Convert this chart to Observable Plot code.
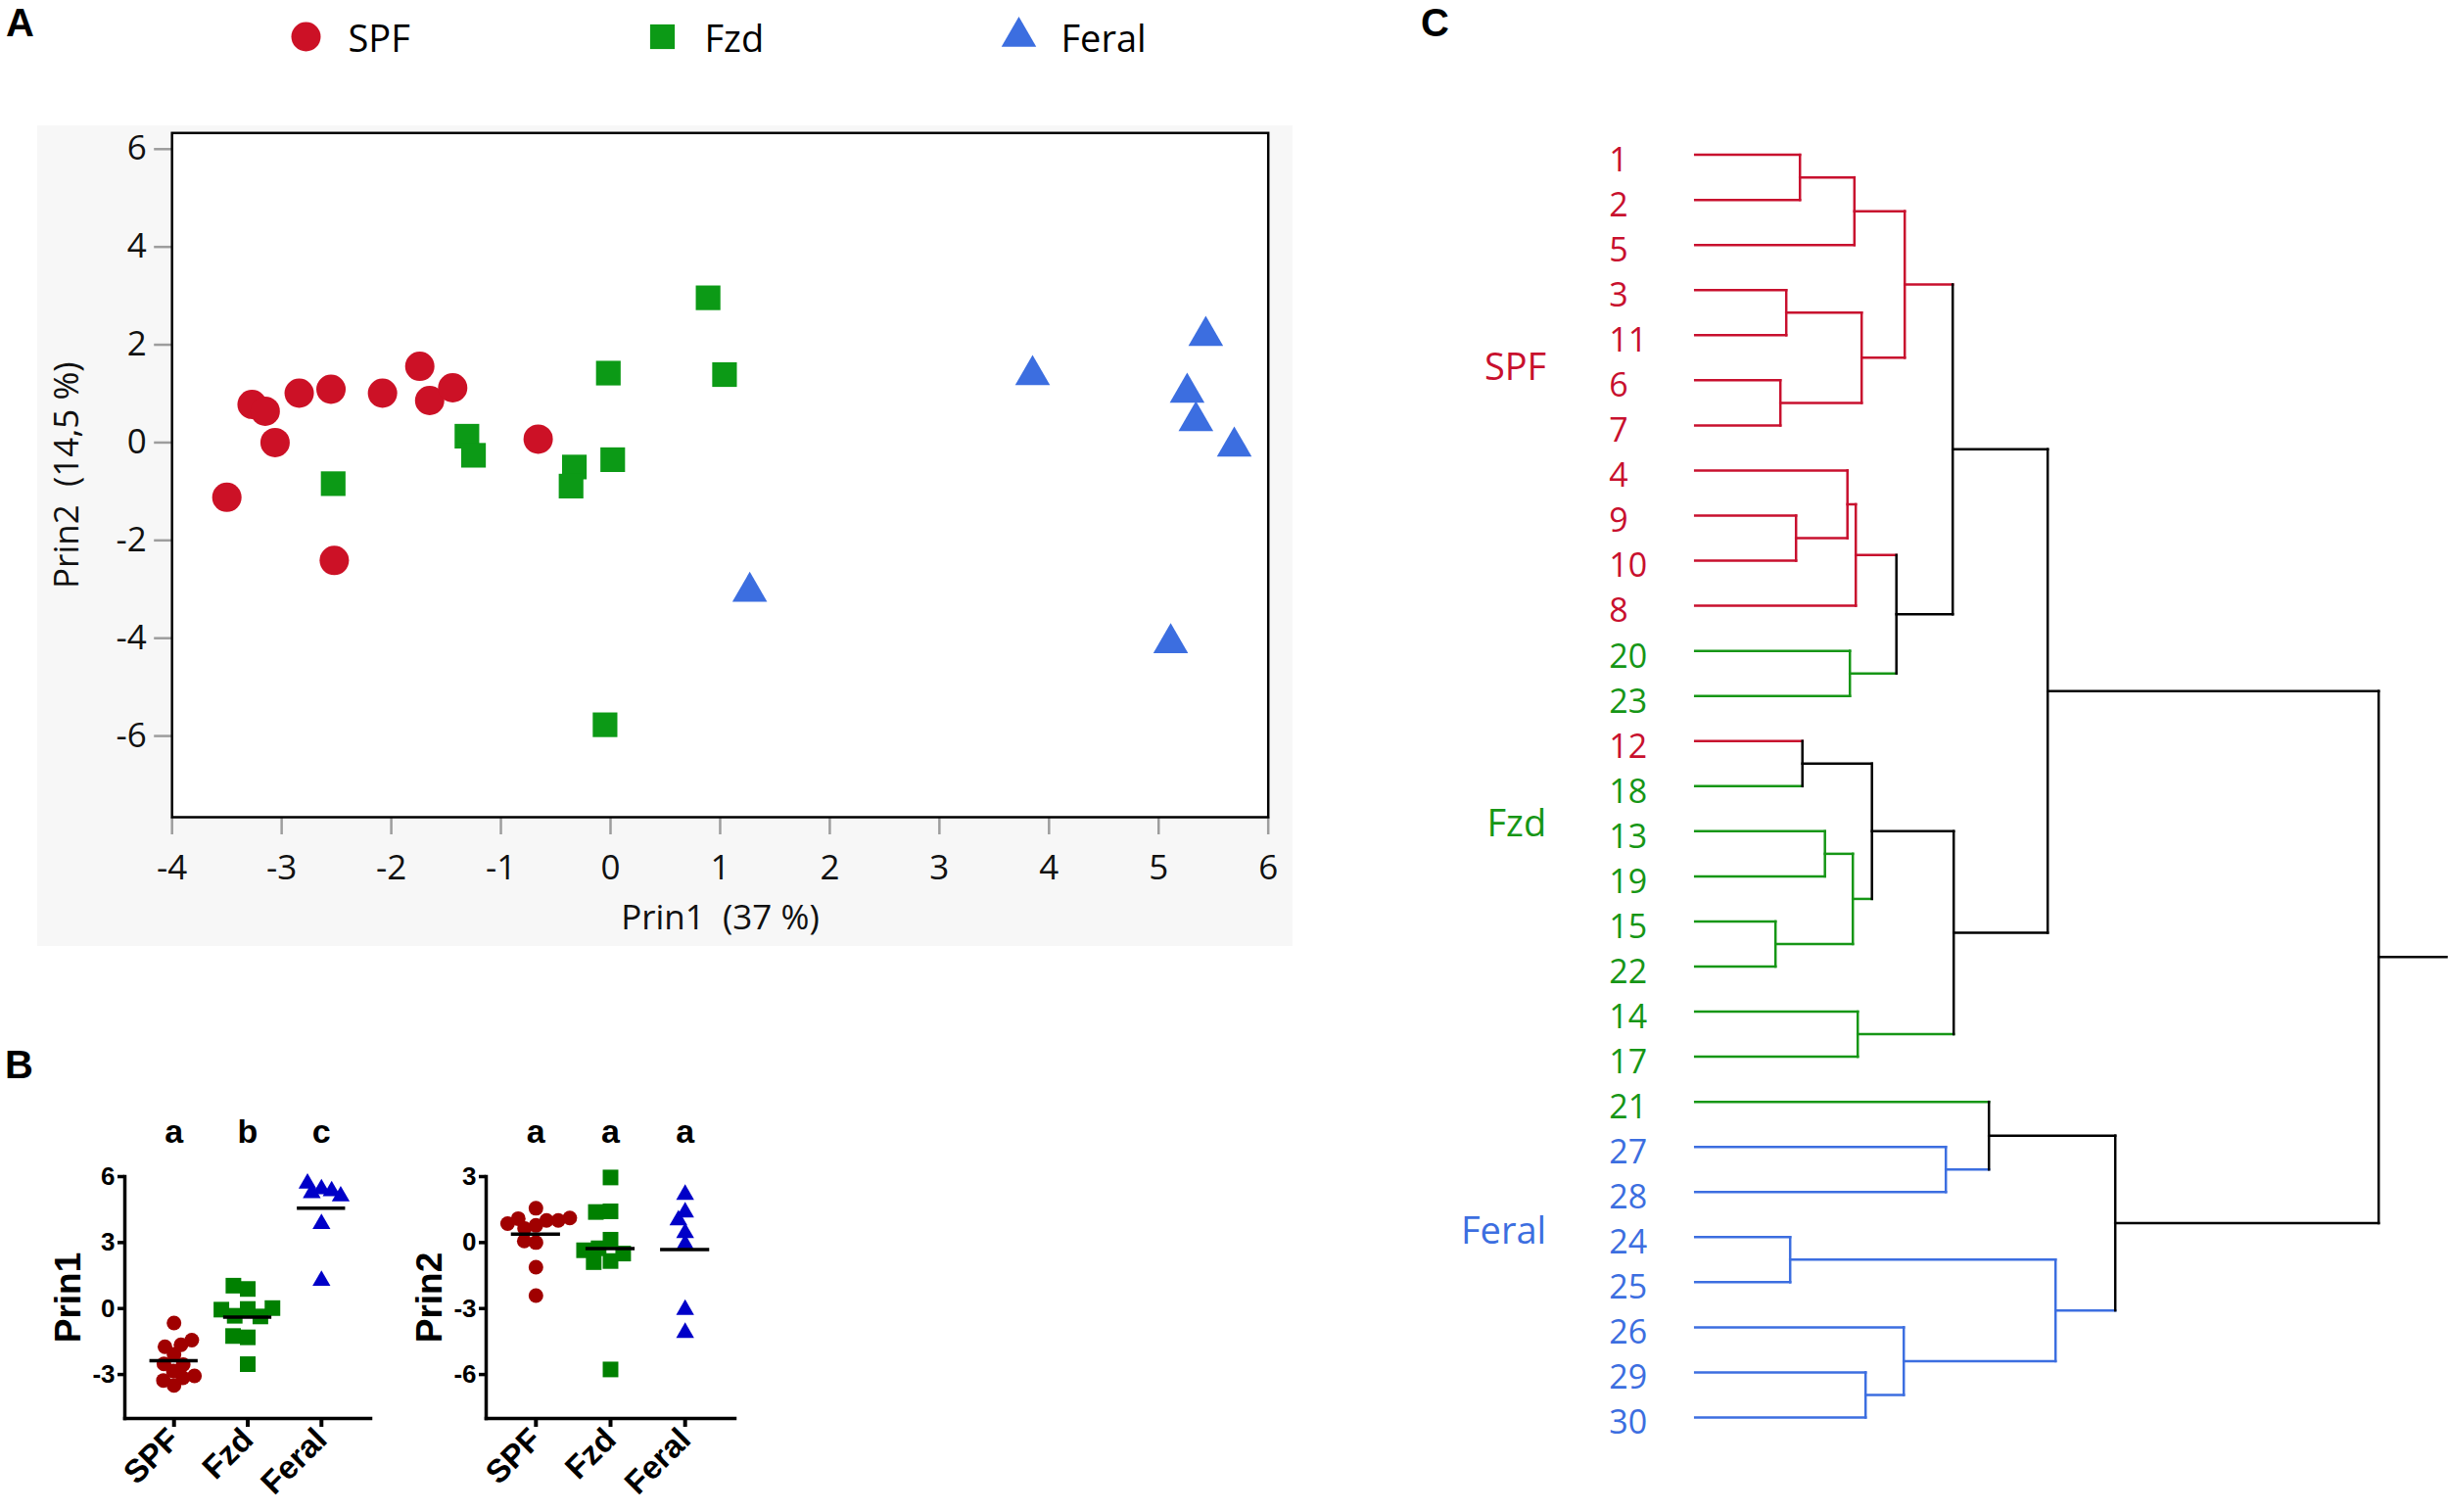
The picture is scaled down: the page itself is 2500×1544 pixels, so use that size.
<!DOCTYPE html>
<html>
<head>
<meta charset="utf-8">
<script src="https://cdn.jsdelivr.net/npm/d3@7"></script>
<script src="https://cdn.jsdelivr.net/npm/@observablehq/plot@0.6"></script>
<style>
html, body { margin: 0; padding: 0; background: #ffffff; }
#page { position: relative; width: 2500px; height: 1544px; overflow: hidden; background: #ffffff; }
.panel { position: absolute; }
.panel svg { max-width: none !important; }
.stack > svg { position: absolute; left: 0; top: 0; }
.lbl { position: absolute; font-family: "Liberation Sans", Arial, sans-serif; font-weight: bold; font-size: 40px; line-height: 1; color: #000; }
</style>
</head>
<body>
<div id="page">
  <div class="lbl" style="left:6px; top:3px;">A</div>
  <div class="lbl" style="left:5px; top:1067px;">B</div>
  <div class="lbl" style="left:1451px; top:3px;">C</div>
  <div id="legend" class="panel" style="left:0; top:0; width:1300px; height:80px;"></div>
  <div id="pca" class="panel" style="left:38px; top:128px; width:1282px; height:838px;"></div>
  <div id="b1" class="panel stack" style="left:0; top:1100px; width:400px; height:444px;"></div>
  <div id="b2" class="panel stack" style="left:369px; top:1100px; width:403px; height:444px;"></div>
  <div id="dendro" class="panel" style="left:1440px; top:100px; width:1060px; height:1420px;"></div>
</div>
<script>
// ---------------- data ----------------
const groups = ["SPF", "Fzd", "Feral"];

const spfPrin1   = [-3.50, -3.27, -3.15, -3.06, -2.84, -2.55, -2.08, -1.74, -1.65, -1.44, -0.66, -2.52];
const spfPrin2   = [-1.12,  0.78,  0.64,  0.00,  1.01,  1.09,  1.01,  1.56,  0.86,  1.12,  0.07, -2.41];
const fzdPrin1   = [ 0.89, -0.02,  1.04, -1.31, -1.25, -2.53, -0.33, -0.36,  0.02, -0.05];
const fzdPrin2   = [ 2.96,  1.42,  1.39,  0.13, -0.26, -0.84, -0.50, -0.89, -0.35, -5.77];
const feralPrin1 = [ 5.43,  3.85,  5.26,  5.34,  5.69,  1.27,  5.11];
const feralPrin2 = [ 2.18,  1.38,  1.02,  0.44, -0.08, -3.05, -4.10];

const xTicksA = [-4, -3, -2, -1, 0, 1, 2, 3, 4, 5, 6];
const yTicksA = [-6, -4, -2, 0, 2, 4, 6];
const yTicksPrin1 = [-3, 0, 3, 6];
const yTicksPrin2 = [-6, -3, 0, 3];
const lettersPrin1 = ["a", "b", "c"];
const lettersPrin2 = ["a", "a", "a"];

// dendrogram leaves by group
const spfLeaves   = [1, 2, 3, 4, 5, 6, 7, 8, 9, 10, 11, 12];
const fzdLeaves   = [13, 14, 15, 17, 18, 19, 20, 21, 22, 23];
const feralLeaves = [24, 25, 26, 27, 28, 29, 30];
// merges: node m(k+1) = mergeLeft[k] + mergeRight[k] at distance mergeHeight[k]
const mergeLeft   = ["1","m1","3","6","m3","m2","9","4","m8","20","m9","m6","12","13","15","m14","m13","14","m17","m12","27","21","24","29","26","m23","m22","m20"];
const mergeRight  = ["2","5","11","7","m4","m5","10","m7","8","23","m10","m11","18","19","22","m15","m16","17","m18","m19","28","m21","25","30","m24","m25","m26","m27"];
const mergeHeight = [1.07,1.626,0.93,0.87,1.70,2.14,1.03,1.555,1.64,1.58,2.055,2.63,1.095,1.325,0.82,1.61,1.805,1.66,2.64,3.60,2.56,3.00,0.97,1.74,2.13,3.68,4.29,6.98];

// ---------------- styles / layout ----------------
const sans = "'Open Sans', 'Noto Sans', sans-serif";
const arial = "'Liberation Sans', Arial, sans-serif";
const styleA = {
  SPF:   {fill: "#cc1126", symbol: "circle",   r: 15},
  Fzd:   {fill: "#0c9a16", symbol: "square",   r: 14.2},
  Feral: {fill: "#3c6ee0", symbol: "triangle", r: 13.2}
};
const styleB = {
  SPF:   {fill: "#a00000", symbol: "circle",   r: 7.5},
  Fzd:   {fill: "#008000", symbol: "square",   r: 9},
  Feral: {fill: "#0000c8", symbol: "triangle", r: 6.8}
};
const dendroColors = {SPF: "#c8102e", Fzd: "#169616", Feral: "#3c6ee0", mixed: "#000000"};
const groupLabelRow = {SPF: 4.72, Fzd: 14.85, Feral: 23.88};
const dendroXMax = 7.673; // right edge of the dendrogram frame (distance units)

// ---------------- tables ----------------
const seriesP1 = {SPF: spfPrin1, Fzd: fzdPrin1, Feral: feralPrin1};
const seriesP2 = {SPF: spfPrin2, Fzd: fzdPrin2, Feral: feralPrin2};
const rows = groups.flatMap(g => seriesP1[g].map((v, i) => ({group: g, prin1: v, prin2: seriesP2[g][i]})));
const fmt = d => String(d);

// ---------------- legend ----------------
const legend = Plot.plot({
  width: 1300, height: 80,
  marginTop: 0, marginBottom: 6, marginLeft: 0, marginRight: 0,
  style: {fontFamily: sans, fontSize: "38px", overflow: "visible", background: "transparent", maxWidth: "none"},
  x: {type: "point", domain: groups, range: [311, 1040], padding: 0, axis: null},
  marks: [
    ...groups.map(g => Plot.dot([g], {x: d => d, symbol: styleA[g].symbol, fill: styleA[g].fill, r: styleA[g].r})),
    Plot.text(groups, {x: d => d, text: d => d, dx: 43, dy: 3, textAnchor: "start", lineAnchor: "middle", fontSize: 38, fill: "#000"})
  ]
});
document.getElementById("legend").appendChild(legend);

// ---------------- panel A ----------------
const pca = Plot.plot({
  width: 1282, height: 838,
  marginLeft: 137.2, marginRight: 25.3, marginTop: 7.3, marginBottom: 132,
  style: {background: "#f7f7f7", fontFamily: sans, fontSize: "35px", overflow: "visible", maxWidth: "none"},
  x: {domain: [-4, 6]},
  y: {domain: [-7.66, 6.33]},
  marks: [
    Plot.frame({fill: "white", stroke: null}),
    Plot.axisX({ticks: xTicksA, tickFormat: fmt, tickSize: 18, tickPadding: 21, stroke: "#9d9d9d", strokeWidth: 2.5, fill: "#111", fontSize: 35, label: null}),
    Plot.axisY({ticks: yTicksA, tickFormat: fmt, tickSize: 18, tickPadding: 8, stroke: "#9d9d9d", strokeWidth: 2.5, fill: "#111", fontSize: 35, label: null}),
    ...groups.map(g => Plot.dot(rows.filter(d => d.group === g), {x: "prin1", y: "prin2", symbol: styleA[g].symbol, fill: styleA[g].fill, r: styleA[g].r})),
    Plot.frame({stroke: "black", strokeWidth: 2.5}),
    Plot.text(["Prin1\u00a0 (37 %)"], {text: d => d, frameAnchor: "bottom", dy: 114, textAnchor: "middle", lineAnchor: "bottom", fontSize: 35, fill: "#111"}),
    Plot.text(["Prin2\u00a0 (14,5 %)"], {text: d => d, frameAnchor: "left", dx: -107, rotate: -90, textAnchor: "middle", lineAnchor: "middle", fontSize: 35, fill: "#111"})
  ]
});
document.getElementById("pca").appendChild(pca);

// ---------------- panel B ----------------
function dotPlot(el, field, width, yDomain, yTicks, letters, title) {
  const frameOpts = {width, height: 444, marginLeft: 127, marginRight: 22, marginTop: 101, marginBottom: 96};
  const bandOpts = {domain: groups, paddingInner: 0, paddingOuter: 0.167, round: false};
  const st = {fontFamily: arial, fontWeight: "bold", fontSize: "32px", overflow: "visible", background: "transparent", maxWidth: "none"};
  // axes, letters and title (band x scale)
  const base = Plot.plot({
    ...frameOpts, style: st,
    x: {type: "band", ...bandOpts},
    y: {domain: yDomain},
    marks: [
      Plot.frame({anchor: "left", strokeWidth: 3.5}),
      Plot.frame({anchor: "bottom", strokeWidth: 3.5}),
      Plot.axisY({ticks: yTicks, tickFormat: fmt, tickSize: 7, tickPadding: 3, strokeWidth: 3.5, fontSize: 26, label: null}),
      Plot.axisX({tickRotate: -45, tickSize: 9, tickPadding: 7, strokeWidth: 4, fontSize: 33, label: null}),
      Plot.text(letters, {x: (d, i) => groups[i], text: d => d, frameAnchor: "top", dy: -45, lineAnchor: "middle", fontSize: 34}),
      Plot.text([title], {text: d => d, frameAnchor: "left", dx: -57, rotate: -90, textAnchor: "middle", lineAnchor: "middle", fontSize: 37})
    ]
  });
  // dodged points and group means (faceted by group, same geometry)
  const pts = Plot.plot({
    ...frameOpts, style: st,
    fx: {...bandOpts, axis: null},
    y: {domain: yDomain, axis: null},
    marks: [
      ...groups.map(g => Plot.dot(rows.filter(d => d.group === g),
        Plot.dodgeX({anchor: "middle", padding: -3},
          {fx: "group", y: field, symbol: styleB[g].symbol, fill: styleB[g].fill, r: styleB[g].r}))),
      Plot.tickY(rows, Plot.groupZ({y: "mean"}, {fx: "group", y: field, stroke: "black", strokeWidth: 3.5, insetLeft: 13, insetRight: 13}))
    ]
  });
  el.appendChild(base);
  el.appendChild(pts);
}
dotPlot(document.getElementById("b1"), "prin1", 400, [-5, 6], yTicksPrin1, lettersPrin1, "Prin1");
dotPlot(document.getElementById("b2"), "prin2", 403, [-8, 3], yTicksPrin2, lettersPrin2, "Prin2");

// ---------------- panel C: dendrogram ----------------
function groupOf(id) {
  if (spfLeaves.includes(id)) return "SPF";
  if (fzdLeaves.includes(id)) return "Fzd";
  return "Feral";
}
const segments = [];
const leaves = [];
let order = 0;
function layout(id) {
  if (!id.startsWith("m")) {
    const n = {id, h: 0, y: order++, group: groupOf(+id)};
    leaves.push(n);
    return n;
  }
  const k = +id.slice(1) - 1;
  const a = layout(mergeLeft[k]);
  const b = layout(mergeRight[k]);
  const n = {id, h: mergeHeight[k], y: (a.y + b.y) / 2, group: a.group === b.group ? a.group : "mixed"};
  segments.push({x1: a.h, y1: a.y, x2: n.h, y2: a.y, color: a.group});
  segments.push({x1: b.h, y1: b.y, x2: n.h, y2: b.y, color: b.group});
  segments.push({x1: n.h, y1: a.y, x2: n.h, y2: b.y, color: n.group});
  return n;
}
const root = layout("m" + mergeHeight.length);
segments.push({x1: root.h, y1: root.y, x2: dendroXMax, y2: root.y, color: root.group});

const dendro = Plot.plot({
  width: 1060, height: 1420,
  marginLeft: 290.7, marginRight: 2, marginTop: 57.6, marginBottom: 73,
  style: {fontFamily: sans, overflow: "visible", background: "transparent", maxWidth: "none"},
  x: {domain: [0, dendroXMax], axis: null},
  y: {domain: [0, leaves.length - 1], range: [57.6, 1347], axis: null},
  color: {domain: Object.keys(dendroColors), range: Object.values(dendroColors)},
  marks: [
    Plot.link(segments, {x1: "x1", y1: "y1", x2: "x2", y2: "y2", stroke: "color", strokeWidth: 2.5, strokeLinecap: "square"}),
    Plot.text(leaves, {x: 0, y: "y", text: "id", fill: "group", dx: -88, dy: 6, textAnchor: "start", lineAnchor: "middle", fontSize: 34}),
    Plot.text(groups, {x: 0, y: d => groupLabelRow[d], text: d => d, fill: d => d, dx: -152, textAnchor: "end", lineAnchor: "middle", fontSize: 38})
  ]
});
document.getElementById("dendro").appendChild(dendro);
</script>
</body>
</html>
